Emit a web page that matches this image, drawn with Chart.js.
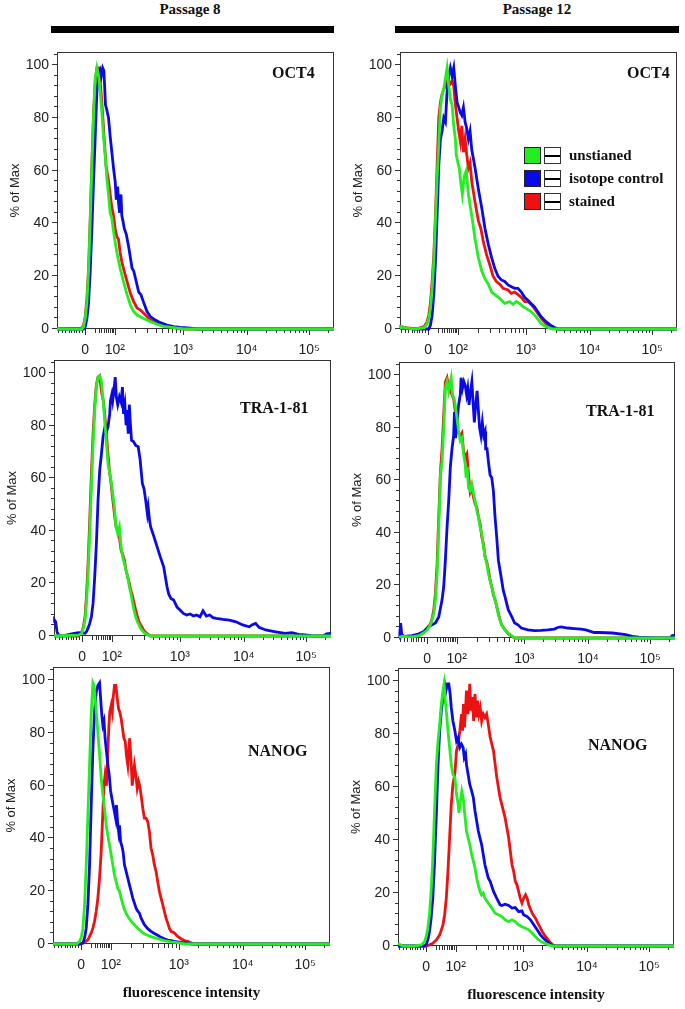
<!DOCTYPE html>
<html>
<head>
<meta charset="utf-8">
<script src="https://cdn.jsdelivr.net/npm/chart.js@4.4.0/dist/chart.umd.min.js"></script>
<style>
  body { margin: 0; background: #fff; }
  #page { position: relative; width: 685px; height: 1009px; overflow: hidden; font-family: "Liberation Serif", "Times New Roman", serif; color: #111; }
  .abs { position: absolute; }
  .head { font-weight: bold; font-size: 15px; line-height: 15px; width: 200px; text-align: center; white-space: nowrap; }
  .bar { background: #000; height: 7px; }
  .tag { font-weight: bold; font-size: 16px; line-height: 16px; white-space: nowrap; }
  .legend { font-weight: bold; font-size: 15px; }
  .row { display: flex; align-items: center; height: 17px; margin-bottom: 6px; white-space: nowrap; }
  .sw { box-sizing: border-box; width: 17px; height: 17px; border: 1.5px solid #222; margin-right: 3px; }
  .ln { box-sizing: border-box; width: 17px; height: 17px; border: 1px solid #333; margin-right: 8px;
        background: linear-gradient(#000, #000) center / 100% 2px no-repeat #fff; }
  canvas { position: absolute; }
</style>
</head>
<body>
<div id="page">
  <div class="abs head" style="left:90px;top:2px">Passage 8</div>
  <div class="abs head" style="left:437px;top:2px">Passage 12</div>
  <div class="abs bar" style="left:51px;top:26px;width:283px"></div>
  <div class="abs bar" style="left:395px;top:26px;width:284px"></div>

  <div class="abs tag" style="left:272px;top:65px">OCT4</div>
  <div class="abs tag" style="left:627px;top:65px">OCT4</div>
  <div class="abs tag" style="left:240px;top:400px">TRA-1-81</div>
  <div class="abs tag" style="left:586px;top:403px">TRA-1-81</div>
  <div class="abs tag" style="left:248px;top:743px">NANOG</div>
  <div class="abs tag" style="left:588px;top:737px">NANOG</div>

  <div class="abs legend" style="left:524px;top:147px">
    <div class="row"><span class="sw" style="background:#22ee22"></span><span class="ln"></span><span>unstianed</span></div>
    <div class="row"><span class="sw" style="background:#0a0ae6"></span><span class="ln"></span><span>isotope control</span></div>
    <div class="row"><span class="sw" style="background:#ee1111"></span><span class="ln"></span><span>stained</span></div>
  </div>
</div>

<script>
// x axis is the logicle display scale, 0..1000 across the plot
const X_TICK_VALUES = [102, 209, 454, 685, 910];
const X_TICK_LABELS = ['0', '10²', '10³', '10⁴', '10⁵'];
const X_LOW_MINOR = [2, 18, 30, 42, 51, 60, 69, 78, 90, 138, 150, 159, 168, 177, 184, 191, 197, 203];
const Y_TICKS = [0, 20, 40, 60, 80, 100];

// OCT4, passage 8
const oct4P8Unstained = [[0,0],[90,0],[96,0.9],[102,4],[108,10],[114,22],[120,41],[126,62],[132,81],[138,95],[144,99],[150,96],[156,90],[162,82],[168,73],[174,66],[180,57],[186,51],[192,44],[198,42],[204,37],[210,33],[216,29],[228,23],[240,18],[253,13],[265,9],[277,6.6],[289,5.3],[313,4],[337,2.8],[361,1.8],[385,1],[421,0.5],[457,0],[1000,0]];
const oct4P8Isotype = [[0,0],[96,0],[102,0.9],[108,4],[114,10],[120,22],[126,38],[132,56],[138,73],[144,90],[150,96],[156,98],[160,96],[165,99],[169,98],[172,92],[175,85],[180,83],[186,80],[192,73],[198,67],[204,61],[210,56],[214,49],[219,54],[222,48],[226,44],[231,51],[234,43],[238,41],[243,38],[250,36],[259,31],[265,27],[271,23],[277,22],[286,18],[295,14],[303,13],[313,10],[325,6.6],[337,4.7],[355,3.4],[373,2.4],[397,1.5],[421,0.9],[445,0.6],[482,0.3],[506,0],[1000,0]];
const oct4P8Stained = [[0,0],[90,0.3],[96,1.5],[102,4.7],[108,11.6],[114,23],[120,42],[126,63],[132,82],[138,94],[144,99],[150,99],[154,96],[159,90],[165,81],[171,71],[177,62],[183,58],[186,56],[192,51],[198,46],[204,43],[210,38],[216,35],[222,34],[228,29],[234,25.5],[240,23],[253,18],[265,13.5],[277,10.4],[289,8],[301,7.2],[313,6],[325,4.7],[337,3.4],[361,2.1],[385,1.3],[421,0.5],[457,0],[1000,0]];

// OCT4, passage 12
const oct4P12Unstained = [[0,0.5],[3,0.9],[21,0.3],[57,0],[87,0.5],[98,2],[104,4],[110,8],[116,15],[122,25.5],[128,41],[134,57],[140,70],[146,84],[152,89],[158,91],[164,95],[170,99],[176,92],[182,87],[188,85],[194,77],[200,72],[203,66],[209,63],[214,61],[220,55],[225,51],[232,58],[239,60],[247,51],[259,43],[271,34],[283,27],[295,22],[307,19],[319,17],[331,14],[342,13],[360,11.6],[378,9.7],[396,10.4],[408,9.3],[420,10.4],[432,9.7],[444,8.5],[455,7.8],[473,6.6],[491,4.7],[509,2.1],[527,0.9],[551,0],[1000,0]];
const oct4P12Isotype = [[0,0.3],[57,0],[104,0],[110,1.5],[116,5.3],[122,13],[128,25.5],[134,43],[140,62],[146,72],[152,75],[158,80],[164,78.5],[170,90],[176,96],[182,99],[188,96],[194,99],[200,92],[206,86],[212,84],[218,82],[223,81],[229,84],[235,78.5],[241,76],[247,72],[253,75],[259,68],[271,61],[283,53],[295,46],[307,38],[319,32],[331,27],[342,23],[354,20],[366,18.6],[378,18],[390,16.7],[402,16],[414,15.4],[426,15.4],[438,14],[450,12],[461,11],[473,9.7],[485,8.5],[497,6.6],[509,4.7],[527,2.8],[545,1.3],[563,0.3],[575,0],[1000,0]];
const oct4P12Stained = [[0,0.5],[3,0.9],[21,0.5],[57,0],[87,0.9],[98,2.8],[104,5.3],[110,10],[116,18],[122,28],[128,43],[134,62],[140,80],[146,86],[152,89],[158,91],[164,92],[170,94],[176,94],[182,93],[188,94],[194,92],[200,85],[212,75],[218,71],[223,77],[229,67],[235,72],[241,66],[247,61],[253,63],[259,56],[271,48],[283,41],[292,38],[301,33],[313,28],[325,24],[336,20],[348,18],[360,17],[372,15.4],[390,14.8],[402,13.5],[414,14],[426,13],[438,12],[450,10.4],[461,10.4],[473,9.3],[485,7.8],[497,6],[515,3.4],[533,1.5],[551,0.5],[569,0],[1000,0]];

// TRA-1-81, passage 8
const tra181P8Unstained = [[0,0],[88,0.3],[100,1],[106,3],[112,6],[117,12.4],[123,24],[129,39],[135,57],[141,73],[147,86],[153,95],[159,98.5],[165,99],[171,97],[177,90],[183,82],[189,74],[195,65.5],[201,62],[206,59],[212,54],[218,49],[224,41.5],[230,39],[236,41.5],[242,34],[248,30],[254,27.6],[260,25],[266,22.5],[272,18.7],[278,16],[284,12.4],[289,9.9],[295,7.3],[301,5.4],[307,4.2],[313,2.9],[325,1.3],[337,0.5],[349,0],[1000,0]];
const tra181P8Isotype = [[0,5],[2,6],[6,5.4],[11,1.5],[17,0.3],[28,0],[64,0.8],[88,1.3],[112,1],[117,1.6],[123,3],[129,4.8],[135,7.3],[141,12.4],[147,22.5],[153,35],[159,51.6],[165,63],[171,69],[177,75.6],[183,79],[189,77.6],[195,79.5],[201,84.5],[204,89.6],[209,92],[212,89.6],[216,93],[221,98.5],[225,91],[230,88],[236,91],[242,89],[247,94.7],[251,84.5],[256,88],[260,80.7],[263,86],[268,77],[272,88],[275,82],[280,74.4],[287,74],[295,72.5],[304,72],[311,67],[319,58],[325,56],[331,51.6],[337,46.6],[340,49],[345,44],[349,41.5],[361,37.7],[372,34],[384,30],[396,26.3],[402,22.5],[408,18.7],[414,16],[422,14.3],[432,13.7],[444,11],[455,9.9],[467,8.6],[479,8],[491,8.4],[503,7.6],[515,8],[527,7.3],[538,9.6],[550,7.6],[562,8],[574,7],[586,6.7],[610,6.3],[633,6],[657,5.4],[681,4.2],[705,3.5],[716,4.3],[728,4.8],[740,3.3],[764,2.3],[800,1.6],[835,1],[859,1.3],[883,0.6],[907,0.4],[930,0.1],[972,0],[984,0.8],[1000,1]];
const tra181P8Stained = [[0,0],[88,0],[100,1.3],[106,3.5],[112,7.3],[117,15],[123,27.6],[129,44],[135,61.6],[141,77],[147,88],[153,95.6],[159,98.5],[165,99],[168,96],[173,92],[178,89.6],[183,84.5],[189,77],[195,69],[200,63],[206,58],[212,52],[218,46.6],[224,41.5],[230,40],[236,37.7],[242,32.7],[248,31],[254,29],[260,25],[266,22.5],[272,20],[277,17.5],[284,15],[289,12.4],[295,9.9],[301,7.3],[307,5.4],[313,4.2],[325,2],[337,0.8],[349,0],[1000,0]];

// TRA-1-81, passage 12
const tra181P12Unstained = [[0,0.3],[12,0.6],[48,0.4],[72,0.9],[90,2],[102,3],[114,5],[120,7],[126,9.4],[132,14.5],[138,24.5],[144,42],[150,62],[156,67],[162,80],[168,95],[174,97.5],[180,94],[186,97.5],[189,99],[194,92.5],[200,91],[206,87],[212,82],[216,78.6],[222,75],[228,76],[234,70],[240,66],[243,61],[247,65],[252,57],[258,56],[264,58.5],[270,55],[276,52],[282,48.4],[288,46],[294,42],[300,39.6],[306,34.6],[312,30.8],[318,28.3],[324,24.5],[330,22],[336,19.5],[342,17],[348,14.5],[354,12],[360,8.8],[366,6.9],[372,5],[384,3.1],[396,1.9],[408,0.9],[419,0],[1000,0]];
const tra181P12Isotype = [[0,0],[3,2],[6,5.7],[10,1.3],[18,0.6],[48,0.9],[72,1.6],[90,2.5],[102,3.8],[108,4.4],[120,5],[132,5.7],[144,8],[156,14.5],[162,19.5],[168,29.6],[174,42],[180,52],[186,65],[192,72],[198,77],[201,86],[205,76],[210,82],[216,88.7],[222,92.5],[225,99],[230,95],[235,97.5],[240,96],[245,92.5],[249,95],[254,88.7],[259,94],[264,97.5],[269,88.7],[273,82],[278,88.7],[283,94],[288,86],[292,80],[297,77],[302,82],[307,77],[312,78.6],[314,72],[319,72],[324,67],[330,62],[336,61],[342,56],[348,46],[354,38.4],[360,29.6],[366,25.8],[372,22],[378,18],[384,15.7],[390,13.2],[396,10.7],[408,8.2],[419,5.7],[431,5],[443,3.8],[467,3.1],[491,2.8],[515,2.9],[539,3.1],[563,3.4],[575,4],[587,4.2],[611,3.8],[635,3.6],[659,3.4],[677,3.1],[707,2.1],[725,2.1],[773,1.9],[821,1.3],[845,0.6],[869,0.3],[929,0],[983,0],[990,0.9],[1000,1]];
const tra181P12Stained = [[0,0.3],[12,0.6],[48,0.4],[72,0.9],[90,2.1],[102,3.4],[114,5.4],[120,7.5],[126,10.7],[132,17],[138,28],[144,46],[150,63],[156,72],[162,85],[168,97.5],[174,99],[180,95],[186,94],[192,92.5],[198,91],[204,86],[210,80],[216,78],[222,77],[228,78],[234,71],[240,68.6],[246,70],[252,62],[258,55.4],[264,57],[270,53.5],[276,51],[282,49.7],[288,46],[294,43.4],[300,38.4],[306,35.8],[312,30.8],[318,29],[324,25.8],[330,22],[336,19.5],[342,16.4],[348,14.5],[354,12],[360,9.4],[366,6.9],[372,5],[384,3.1],[396,1.6],[408,0.6],[419,0],[1000,0]];

// NANOG, passage 8
const nanogP8Unstained = [[0,0],[84,0],[96,1],[102,2.5],[108,6],[114,15],[120,30],[126,49],[132,68],[138,87],[144,99],[148,98],[152,93],[157,87],[162,80],[168,72],[174,63],[180,56.5],[186,51.5],[192,45],[198,41],[204,37.6],[210,33.8],[216,30],[222,26],[228,23.7],[234,21],[240,20],[246,17.4],[252,15],[258,13],[264,11.7],[270,10.5],[282,8.6],[294,7.3],[306,6],[318,4.8],[330,3.8],[342,3.3],[354,2.8],[378,2],[402,1.3],[426,0.8],[450,0.5],[475,0],[1000,0]];
const nanogP8Isotype = [[0,0],[96,0],[108,0.4],[114,2.3],[120,6],[126,15],[132,30],[138,52.7],[144,74],[150,88],[156,95.6],[162,98],[168,99],[172,93],[176,87],[180,83],[184,84.5],[188,78],[193,73],[198,68],[203,64],[208,58],[213,55],[217,52.7],[222,50],[226,47.7],[229,52.7],[233,46.4],[237,42.6],[240,45],[244,38.8],[249,37],[253,35],[258,30],[264,27.5],[270,25],[276,22.4],[282,20],[288,17.4],[294,15.5],[300,13.6],[306,12.4],[312,11.7],[318,9.8],[330,7.3],[342,5.8],[354,4.8],[366,4],[378,3.3],[390,2.5],[402,2],[414,1.5],[426,1.3],[438,1],[450,0.8],[468,0.5],[487,0.3],[499,0],[1000,0]];
const nanogP8Stained = [[0,0],[96,0],[108,0.3],[114,0.6],[126,1.6],[132,2.9],[138,4.2],[144,6],[150,8.6],[156,12.4],[162,17.4],[168,25],[174,35],[180,50],[184,60],[188,64],[193,60],[198,73],[202,83],[205,88],[210,90.5],[214,88],[217,93],[222,98],[227,98],[232,93],[237,89],[241,88],[246,85.5],[251,81.7],[256,78],[261,76.7],[265,71.6],[270,67.8],[274,74],[277,78],[282,69],[286,60],[291,65],[294,67.8],[299,64],[304,59],[309,61.6],[313,60],[318,56.5],[324,51.5],[330,47.7],[336,47.7],[342,46.4],[348,42.6],[354,36.3],[360,33.8],[366,30],[372,27.5],[378,23.7],[384,20],[390,17.4],[396,15],[402,12.4],[408,9.8],[414,8],[420,6],[426,4.8],[438,4.2],[450,2.9],[462,2],[474,1.3],[486,1],[498,0.5],[510,0],[1000,0]];

// NANOG, passage 12
const nanogP12Unstained = [[0,1],[17,0],[59,0],[84,0.4],[96,1.6],[102,3.5],[108,6.7],[114,11.8],[120,20.6],[126,33],[132,50],[139,68.6],[145,77.4],[151,83.8],[157,91.4],[163,96.5],[167,99],[171,92.7],[176,87.6],[181,81.3],[187,75],[193,68.6],[199,64.9],[206,63.6],[212,57.3],[218,53.5],[221,50.3],[226,54.7],[231,58.5],[236,56],[242,49.7],[248,43.4],[254,40.8],[260,38.3],[267,34.5],[273,32],[279,29.5],[285,25.7],[291,23.1],[297,20.6],[303,19.3],[309,20],[315,18],[327,16.2],[340,14.3],[352,12.4],[364,11.8],[376,11.1],[388,9.9],[401,9.2],[413,9.9],[425,9.2],[437,8],[449,7.3],[462,6.7],[474,6.1],[486,4.8],[498,3.5],[510,2.3],[523,1.4],[541,0.6],[559,0],[1000,0]];
const nanogP12Isotype = [[0,0],[96,0],[102,0.6],[108,2.3],[114,5.4],[120,10.5],[126,18],[132,30.7],[139,50],[145,68.6],[151,81.3],[157,88.9],[163,94],[169,99],[174,96.5],[179,99],[184,99],[189,95.2],[193,90],[199,85],[206,81.3],[212,77.4],[218,78.6],[224,75],[230,76.2],[236,75],[240,71.2],[245,72.5],[248,68.6],[254,64.9],[260,61],[267,58.5],[273,56],[279,51],[285,47.2],[291,43.4],[297,40.8],[303,38.3],[309,34.5],[315,30.7],[321,28.2],[327,25.7],[334,24.4],[340,22.5],[346,20.6],[352,19.3],[358,18],[364,16.8],[370,15.5],[376,15.3],[388,15.8],[401,15.3],[413,14.3],[425,14.5],[437,13],[449,13.3],[455,11.8],[468,11.1],[480,9.9],[492,8],[504,6.1],[516,4.2],[529,2.7],[541,1.6],[553,0.6],[565,0],[1000,0]];
const nanogP12Stained = [[0,0],[102,0],[114,0.4],[126,1],[139,2.3],[151,4.2],[163,8],[169,11.8],[175,18],[181,28.2],[187,40.8],[193,53.5],[199,61],[206,64.9],[212,73.8],[218,76.2],[224,81.3],[230,87.6],[234,81.3],[237,91.4],[241,82.6],[245,90],[248,96.5],[253,87.6],[257,92.7],[260,99],[264,88.9],[269,94],[274,85],[279,95.2],[284,86.3],[288,92.7],[293,87.6],[298,90],[303,85],[309,87.6],[315,86.3],[321,87.6],[327,83.8],[334,78.8],[340,76.2],[346,73.7],[352,68.6],[358,63.6],[364,59.8],[370,56],[376,53.5],[382,51],[388,48.4],[401,40.8],[413,30.7],[419,28.2],[425,24.4],[431,23.1],[437,20.6],[443,18],[449,16.2],[455,18],[462,19.3],[468,18],[474,15.5],[486,12.4],[498,10.5],[510,8],[523,5.4],[535,3.5],[547,1.9],[559,0.6],[571,0],[1000,0]];

const GREEN = '#22ee22', BLUE = '#0a0ae6', RED = '#ee1111';
const SANS = '"Liberation Sans", Arial, sans-serif';
const SERIF = '"Liberation Serif", "Times New Roman", serif';

const panels = [
  { left: 57,  top: 52,  w: 277, h: 277, sets: [oct4P8Unstained, oct4P8Isotype, oct4P8Stained] },
  { left: 400, top: 52,  w: 277, h: 277, sets: [oct4P12Unstained, oct4P12Isotype, oct4P12Stained] },
  { left: 54,  top: 360, w: 277, h: 276, sets: [tra181P8Unstained, tra181P8Isotype, tra181P8Stained] },
  { left: 399, top: 362, w: 276, h: 276, sets: [tra181P12Unstained, tra181P12Isotype, tra181P12Stained] },
  { left: 53,  top: 667, w: 277, h: 277, sets: [nanogP8Unstained, nanogP8Isotype, nanogP8Stained], xTitle: true },
  { left: 398, top: 668, w: 276, h: 278, sets: [nanogP12Unstained, nanogP12Isotype, nanogP12Stained], xTitle: true }
];

// minor ticks of the log decades
const xMinor = X_LOW_MINOR.slice();
for (let d = 1; d < X_TICK_VALUES.length; d++) {
  const a = X_TICK_VALUES[d], b = d + 1 < X_TICK_VALUES.length ? X_TICK_VALUES[d + 1] : a + (a - X_TICK_VALUES[d - 1]);
  for (let m = 2; m <= 9; m++) {
    const v = a + Math.log10(m) * (b - a);
    if (v < 1000) xMinor.push(v);
  }
}
const yMinor = [];
for (let v = 4; v <= 104; v += 4) if (v % 20) yMinor.push(v);

// frame box and tick marks, drawn under the curves
const frameTicks = {
  id: 'frameTicks',
  beforeDatasetsDraw(chart) {
    const { ctx, chartArea: a, scales: { x, y } } = chart;
    ctx.save();
    ctx.strokeStyle = '#333';
    ctx.lineWidth = 1;
    ctx.strokeRect(a.left + 0.5, a.top + 0.5, a.right - a.left - 1, a.bottom - a.top - 1);
    ctx.beginPath();
    const xt = (v, len) => {
      const px = Math.round(x.getPixelForValue(v)) + 0.5;
      ctx.moveTo(px, a.bottom); ctx.lineTo(px, a.bottom + len);
    };
    const yt = (v, len) => {
      const py = Math.round(y.getPixelForValue(v)) - 0.5;
      ctx.moveTo(a.left, py); ctx.lineTo(a.left - len, py);
    };
    X_TICK_VALUES.forEach(v => xt(v, 6));
    xMinor.forEach(v => xt(v, 4));
    Y_TICKS.forEach(v => yt(v, 5));
    yMinor.forEach(v => yt(v, 3));
    ctx.stroke();
    ctx.restore();
  }
};

function line(points, color) {
  return {
    data: points.map(p => ({ x: p[0], y: p[1] })),
    borderColor: color,
    borderWidth: 2.8,
    pointRadius: 0,
    tension: 0,
    fill: false,
    clip: false
  };
}

const page = document.getElementById('page');
panels.forEach(p => {
  const axisW = 56, padTop = 20, padRight = 6;
  const xAxisH = p.xTitle ? 62 : 34;
  const cv = document.createElement('canvas');
  cv.width = p.w + axisW + padRight;
  cv.height = p.h + padTop + xAxisH;
  cv.style.left = (p.left - axisW) + 'px';
  cv.style.top = (p.top - padTop) + 'px';
  page.insertBefore(cv, page.firstChild);

  new Chart(cv, {
    type: 'line',
    data: {
      datasets: [line(p.sets[0], GREEN), line(p.sets[1], BLUE), line(p.sets[2], RED)]
    },
    options: {
      responsive: false,
      animation: false,
      layout: { padding: { top: padTop, right: padRight, left: 0, bottom: 0 } },
      plugins: { legend: { display: false }, tooltip: { enabled: false } },
      scales: {
        x: {
          type: 'linear', min: 0, max: 1000,
          afterBuildTicks: s => { s.ticks = X_TICK_VALUES.map(v => ({ value: v })); },
          afterFit: s => { s.height = xAxisH; },
          grid: { display: false, drawTicks: false },
          border: { display: false },
          ticks: {
            autoSkip: false, maxRotation: 0, padding: 13, color: '#222',
            font: { family: SANS, size: 14 },
            callback: v => X_TICK_LABELS[X_TICK_VALUES.indexOf(v)] || ''
          },
          title: {
            display: !!p.xTitle, text: 'fluorescence intensity', color: '#111',
            font: { family: SERIF, size: 15, weight: 'bold' },
            padding: { top: 0, bottom: 4 }
          }
        },
        y: {
          min: 0, max: 105,
          afterBuildTicks: s => { s.ticks = Y_TICKS.map(v => ({ value: v })); },
          afterFit: s => { s.width = axisW; },
          grid: { display: false, drawTicks: false },
          border: { display: false },
          ticks: { padding: 8, color: '#222', font: { family: SANS, size: 14 } },
          title: {
            display: true, text: '% of Max', color: '#222',
            font: { family: SANS, size: 13 },
            padding: { top: 7, bottom: 0 }
          }
        }
      }
    },
    plugins: [frameTicks]
  });
});
</script>
</body>
</html>
